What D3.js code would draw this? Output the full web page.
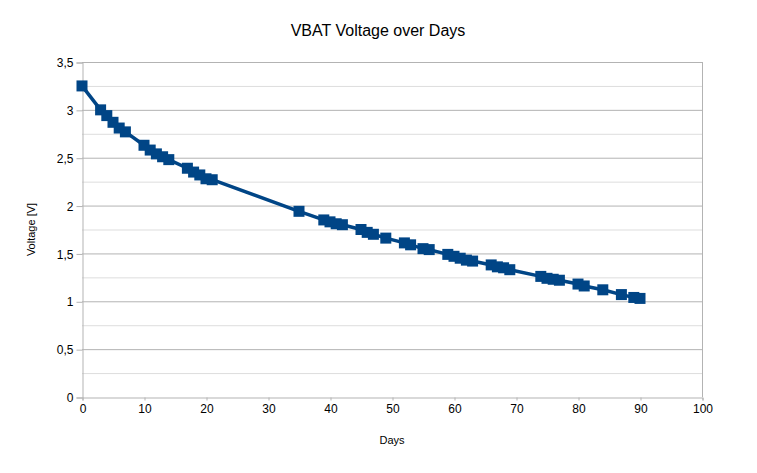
<!DOCTYPE html>
<html>
<head>
<meta charset="utf-8">
<script src="https://cdn.jsdelivr.net/npm/d3@7"></script>
<style>
  body { margin: 0; background: #fff; }
  text { font-family: "Liberation Sans", Arial, sans-serif; }
</style>
</head>
<body>
<div id="chart"></div>
<script>
// data
const days = [0, 3, 4, 5, 6, 7, 10, 11, 12, 13, 14, 17, 18, 19, 20, 21, 35,
  39, 40, 41, 42, 45, 46, 47, 49, 52, 53, 55, 56, 59, 60, 61, 62, 63,
  66, 67, 68, 69, 74, 75, 76, 77, 80, 81, 84, 87, 89, 90];
const voltage = [3.25, 3.0, 2.94, 2.87, 2.81, 2.77, 2.63, 2.58, 2.54, 2.51, 2.48, 2.39, 2.35, 2.32, 2.28, 2.27, 1.94,
  1.85, 1.83, 1.81, 1.80, 1.75, 1.72, 1.70, 1.66, 1.61, 1.59, 1.55, 1.54, 1.49, 1.47, 1.45, 1.43, 1.42,
  1.38, 1.36, 1.35, 1.33, 1.26, 1.24, 1.23, 1.22, 1.18, 1.16, 1.12, 1.07, 1.04, 1.03];
const xTicks = [0, 10, 20, 30, 40, 50, 60, 70, 80, 90, 100];
const yTicks = [0, 0.5, 1, 1.5, 2, 2.5, 3, 3.5];
const yMinorTicks = [0.25, 0.75, 1.25, 1.75, 2.25, 2.75, 3.25];

const points = days.map((d, i) => ({ day: d, v: voltage[i] }));

const width = 757, height = 473;
const margin = { top: 62, right: 55, bottom: 76, left: 82 };
const innerWidth = width - margin.left - margin.right;
const innerHeight = height - margin.top - margin.bottom;

const lineColor = "#004586";
const majorGrid = "#b3b3b3";
const minorGrid = "#dddddd";

const svg = d3.select("#chart").append("svg")
  .attr("width", width)
  .attr("height", height);

const xScale = d3.scaleLinear().domain([0, 100]).range([0, innerWidth]);
const yScale = d3.scaleLinear().domain([0, 3.5]).range([innerHeight, 0]);

const inner = svg.append("g")
  .attr("transform", `translate(${margin.left},${margin.top})`);

// minor grid
inner.selectAll(".minor")
  .data(yMinorTicks)
  .join("line")
    .attr("class", "minor")
    .attr("x1", 0).attr("x2", innerWidth)
    .attr("y1", d => yScale(d) + 0.5).attr("y2", d => yScale(d) + 0.5)
    .attr("stroke", minorGrid);

// major grid
inner.selectAll(".major")
  .data(yTicks.filter(d => d > 0))
  .join("line")
    .attr("class", "major")
    .attr("x1", 0).attr("x2", innerWidth)
    .attr("y1", d => yScale(d) + 0.5).attr("y2", d => yScale(d) + 0.5)
    .attr("stroke", majorGrid);

// right border
inner.append("line")
  .attr("x1", innerWidth + 0.5).attr("x2", innerWidth + 0.5)
  .attr("y1", 0).attr("y2", innerHeight)
  .attr("stroke", majorGrid);

// y axis
const fmt = d => String(d).replace(".", ",");
const yAxis = inner.append("g")
  .attr("transform", "translate(0.5,0.5)")
  .call(d3.axisLeft(yScale).tickValues(yTicks).tickFormat(fmt).tickSize(6).tickPadding(3));

// x axis
const xAxis = inner.append("g")
  .attr("transform", `translate(0.5,${innerHeight + 0.5})`)
  .call(d3.axisBottom(xScale).tickValues(xTicks).tickSize(3).tickPadding(4));

[yAxis, xAxis].forEach(ax => {
  ax.select(".domain").attr("stroke", majorGrid);
  ax.selectAll(".tick line").attr("stroke", majorGrid);
  ax.selectAll(".tick text")
    .attr("fill", "#000")
    .style("font-size", "12px")
    .style("font-family", "'Liberation Sans', Arial, sans-serif");
});
yAxis.selectAll(".tick text").attr("dy", "0.35em");

// line + markers
const line = d3.line()
  .x(d => xScale(d.day))
  .y(d => yScale(d.v));

inner.append("path")
  .datum(points)
  .attr("d", line)
  .attr("fill", "none")
  .attr("stroke", lineColor)
  .attr("stroke-width", 3.5)
  .attr("stroke-linejoin", "round");

const ms = 11;
inner.selectAll(".marker")
  .data(points)
  .join("rect")
    .attr("class", "marker")
    .attr("x", d => xScale(d.day) - ms / 2)
    .attr("y", d => yScale(d.v) - ms / 2)
    .attr("width", ms)
    .attr("height", ms)
    .attr("fill", lineColor);

// titles
svg.append("text")
  .attr("x", 378)
  .attr("y", 36)
  .attr("text-anchor", "middle")
  .style("font-size", "16px")
  .text("VBAT Voltage over Days");

svg.append("text")
  .attr("x", margin.left + innerWidth / 2)
  .attr("y", 444)
  .attr("text-anchor", "middle")
  .style("font-size", "11px")
  .text("Days");

svg.append("text")
  .attr("transform", `translate(35,${margin.top + innerHeight / 2}) rotate(-90)`)
  .attr("text-anchor", "middle")
  .style("font-size", "11px")
  .text("Voltage [V]");
</script>
</body>
</html>
